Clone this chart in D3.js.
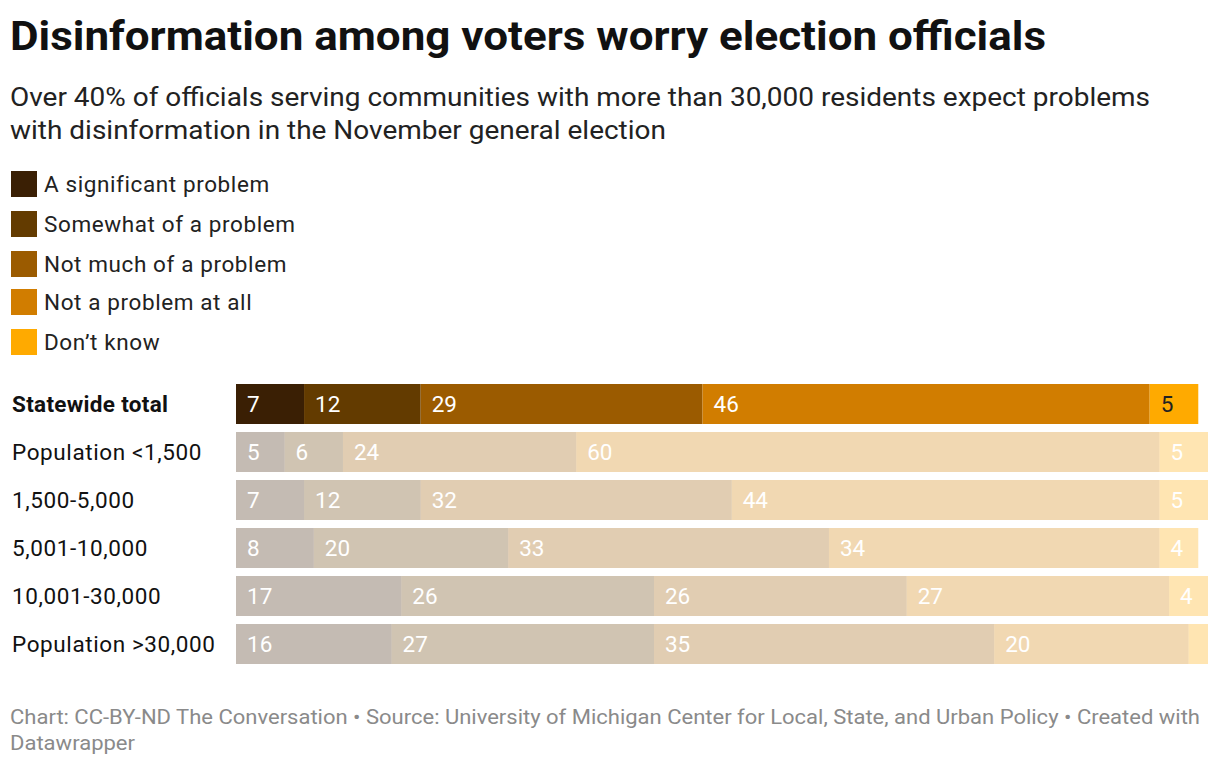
<!DOCTYPE html>
<html><head><meta charset="utf-8">
<script src="https://cdn.jsdelivr.net/npm/d3@7"></script>
<style>body{margin:0;background:#fff;font-family:Roboto,sans-serif}</style>
</head><body>
<svg id="chart" width="1220" height="766"></svg>
<script>
const categories = ["Statewide total", "Population <1,500", "1,500-5,000", "5,001-10,000", "10,001-30,000", "Population >30,000"];
const keys = ["A significant problem", "Somewhat of a problem", "Not much of a problem", "Not a problem at all", "Don\u2019t know"];
const significant = [7, 5, 7, 8, 17, 16];
const somewhat = [12, 6, 12, 20, 26, 27];
const notMuch = [29, 24, 32, 33, 26, 35];
const notAtAll = [46, 60, 44, 34, 27, 20];
const dontKnow = [5, 5, 5, 4, 4, 2];
const labelled = [true, true, true, true, true, false];
const colors = ["#3a1f04", "#633b00", "#9b5b00", "#d17d00", "#ffaa00"];

const svg = d3.select("#chart");
const rows = categories.map((c, i) => ({
  cat: c, vals: [significant[i], somewhat[i], notMuch[i], notAtAll[i], dontKnow[i]], i
}));

svg.append("text").attr("x", 10).attr("y", 50).attr("font-size", 41).attr("font-weight", 700)
  .attr("textLength", 1036).attr("lengthAdjust", "spacingAndGlyphs")
  .attr("fill", "#111").text("Disinformation among voters worry election officials");
[["Over 40% of officials serving communities with more than 30,000 residents expect problems", 1140],
 ["with disinformation in the November general election", 656]].forEach(([t, w], i) =>
  svg.append("text").attr("x", 10).attr("y", 106 + i * 33).attr("font-size", 25.5)
    .attr("textLength", w).attr("lengthAdjust", "spacingAndGlyphs").attr("fill", "#222").text(t));

// legend
const lg = svg.append("g");
const ly = [171, 211, 251, 289, 329];
keys.forEach((k, i) => {
  lg.append("rect").attr("x", 11).attr("y", ly[i]).attr("width", 26).attr("height", 26).attr("fill", colors[i]);
  lg.append("text").attr("x", 44).attr("y", ly[i] + 21).attr("font-size", 22.5).attr("letter-spacing", 0.6)
    .attr("fill", "#222").text(k);
});

const x = d3.scaleLinear().domain([0, 100]).range([236, 1208]);
const y = d3.scaleBand().domain(categories).range([380, 668]).paddingInner(0.1667).paddingOuter(0.0833);

rows.forEach(r => {
  const g = svg.append("g");
  g.append("text").attr("x", 12).attr("y", y(r.cat) + y.bandwidth() / 2 + 8)
    .attr("font-size", 22.5).attr("letter-spacing", r.i === 0 ? 0.3 : 0.6)
    .attr("font-weight", r.i === 0 ? 700 : 400).attr("fill", "#111").text(r.cat);
  let acc = 0;
  r.vals.forEach((v, k) => {
    const x0 = x(acc), x1 = x(acc + v);
    acc += v;
    g.append("rect").attr("x", x0).attr("y", y(r.cat)).attr("width", x1 - x0).attr("height", y.bandwidth())
      .attr("fill", colors[k]).attr("opacity", r.i === 0 ? 1 : 0.3);
    if (k < 4 || labelled[r.i]) {
      const light = r.i === 0 && k === 4;
      g.append("text").attr("x", x0 + 11).attr("y", y(r.cat) + y.bandwidth() / 2 + 8)
        .attr("font-size", 22.5).attr("fill", light ? "#222" : "#fff").text(v);
    }
  });
});

[["Chart: CC-BY-ND The Conversation \u2022 Source: University of Michigan Center for Local, State, and Urban Policy \u2022 Created with", 1190],
 ["Datawrapper", 125]].forEach(([t, w], i) =>
  svg.append("text").attr("x", 10).attr("y", 724 + i * 26).attr("font-size", 20.5)
    .attr("textLength", w).attr("lengthAdjust", "spacingAndGlyphs").attr("fill", "#8a8a8a").text(t));
</script>
</body></html>
